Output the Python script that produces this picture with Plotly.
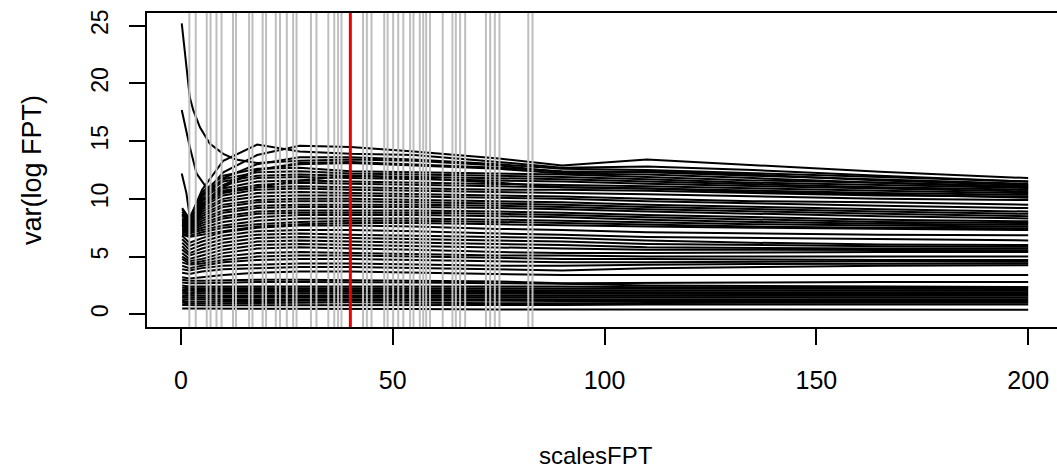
import plotly.graph_objects as go

# shared x positions (scalesFPT) for most curves
GX = [0.3, 2, 5, 10, 18, 28, 40, 55, 75, 90, 110, 135, 165, 200]

# low, nearly flat curves
BOTTOM = [
    [0.5, 0.5, 0.45, 0.45, 0.45, 0.45, 0.45, 0.45, 0.42, 0.42, 0.4, 0.4, 0.4, 0.4],
    [0.8, 0.78, 0.78, 0.78, 0.78, 0.78, 0.8, 0.8, 0.8, 0.8, 0.85, 0.85, 0.85, 0.85],
    [1.0, 0.95, 0.95, 0.95, 1.0, 1.0, 1.05, 1.0, 0.95, 0.95, 1.0, 1.0, 1.0, 1.0],
    [1.15, 1.1, 1.1, 1.15, 1.15, 1.2, 1.2, 1.2, 1.15, 1.15, 1.15, 1.15, 1.15, 1.15],
    [1.3, 1.3, 1.3, 1.3, 1.35, 1.35, 1.35, 1.35, 1.3, 1.3, 1.3, 1.3, 1.3, 1.3],
    [1.5, 1.45, 1.45, 1.5, 1.5, 1.5, 1.5, 1.5, 1.45, 1.45, 1.45, 1.45, 1.45, 1.45],
    [1.6, 1.6, 1.65, 1.65, 1.65, 1.65, 1.65, 1.65, 1.6, 1.6, 1.6, 1.6, 1.6, 1.6],
    [1.8, 1.75, 1.8, 1.8, 1.8, 1.8, 1.8, 1.8, 1.75, 1.75, 1.75, 1.75, 1.75, 1.75],
    [1.95, 1.9, 1.95, 1.95, 1.95, 1.95, 1.95, 1.95, 1.9, 1.9, 1.9, 1.9, 1.9, 1.9],
    [2.1, 2.1, 2.1, 2.1, 2.1, 2.1, 2.1, 2.1, 2.05, 2.05, 2.05, 2.05, 2.05, 2.05],
    [2.3, 2.25, 2.25, 2.25, 2.25, 2.25, 2.25, 2.25, 2.2, 2.2, 2.2, 2.2, 2.2, 2.2],
    [2.5, 2.4, 2.4, 2.4, 2.4, 2.45, 2.45, 2.45, 2.4, 2.4, 2.35, 2.35, 2.35, 2.35],
    [2.75, 2.7, 2.7, 2.75, 2.8, 2.8, 2.8, 2.75, 2.7, 2.65, 2.5, 2.45, 2.4, 2.35],
    [3.0, 2.9, 2.9, 2.95, 3.0, 3.0, 2.95, 2.9, 2.85, 2.7, 2.7, 2.75, 2.8, 2.8],
    [3.2, 3.1, 3.2, 3.4, 3.6, 3.7, 3.7, 3.6, 3.5, 3.4, 3.4, 3.4, 3.4, 3.4],
]

# middle curves
MIDDLE = [
    [3.6, 3.5, 3.7, 3.9, 4.0, 4.1, 4.1, 4.0, 3.9, 3.8, 4.0, 4.1, 4.2, 4.25],
    [3.9, 3.8, 4.0, 4.2, 4.3, 4.4, 4.4, 4.3, 4.2, 4.2, 4.3, 4.35, 4.4, 4.4],
    [4.2, 4.0, 4.2, 4.5, 4.7, 4.8, 4.8, 4.7, 4.6, 4.5, 4.5, 4.55, 4.6, 4.55],
    [4.5, 4.3, 4.4, 4.7, 5.0, 5.1, 5.1, 5.0, 4.9, 4.8, 4.8, 4.75, 4.7, 4.7],
    [4.8, 4.4, 4.6, 5.0, 5.3, 5.4, 5.3, 5.2, 5.1, 5.1, 5.0, 5.0, 5.0, 5.0],
    [5.0, 4.6, 4.8, 5.3, 5.7, 5.8, 5.7, 5.6, 5.4, 5.3, 5.3, 5.35, 5.4, 5.4],
    [5.3, 4.8, 5.1, 5.6, 6.0, 6.1, 6.0, 5.9, 5.8, 5.7, 5.6, 5.6, 5.55, 5.55],
    [5.6, 5.1, 5.4, 5.9, 6.3, 6.4, 6.3, 6.2, 6.1, 6.0, 5.8, 5.75, 5.7, 5.7],
    [5.9, 5.3, 5.7, 6.2, 6.6, 6.7, 6.6, 6.5, 6.4, 6.3, 6.1, 6.0, 5.9, 5.85],
    [6.2, 5.6, 6.0, 6.5, 6.9, 7.0, 6.9, 6.8, 6.7, 6.6, 6.4, 6.2, 6.05, 6.0],
    [6.5, 5.9, 6.3, 6.8, 7.2, 7.3, 7.3, 7.2, 7.0, 6.9, 6.7, 6.6, 6.5, 6.4],
    [6.8, 6.2, 6.6, 7.1, 7.5, 7.7, 7.7, 7.6, 7.4, 7.3, 7.1, 7.0, 6.9, 6.85],
]

# upper curves
UPPER = [
    [6.9, 6.7, 6.9, 7.2, 7.6, 7.8, 7.9, 7.9, 7.8, 7.7, 7.6, 7.5, 7.4, 7.3],
    [7.0, 6.8, 7.1, 7.5, 7.8, 8.0, 8.1, 8.1, 8.0, 7.9, 7.8, 7.6, 7.5, 7.45],
    [7.1, 7.0, 7.3, 7.7, 8.1, 8.3, 8.3, 8.3, 8.2, 8.1, 7.95, 7.8, 7.7, 7.6],
    [7.2, 7.1, 7.5, 8.0, 8.4, 8.6, 8.6, 8.6, 8.5, 8.4, 8.2, 8.0, 7.85, 7.75],
    [7.3, 7.2, 7.7, 8.3, 8.7, 8.8, 8.8, 8.8, 8.7, 8.6, 8.4, 8.2, 8.0, 7.9],
    [7.4, 7.3, 7.9, 8.5, 8.9, 9.0, 9.0, 9.0, 8.9, 8.8, 8.6, 8.4, 8.2, 8.05],
    [7.5, 7.4, 8.1, 8.8, 9.2, 9.3, 9.3, 9.3, 9.2, 9.1, 8.9, 8.7, 8.5, 8.3],
    [7.6, 7.5, 8.3, 9.0, 9.4, 9.5, 9.5, 9.5, 9.4, 9.3, 9.1, 8.9, 8.7, 8.5],
    [7.7, 7.6, 8.5, 9.3, 9.7, 9.8, 9.8, 9.7, 9.6, 9.5, 9.3, 9.1, 8.9, 8.7],
    [7.8, 7.7, 8.7, 9.5, 9.9, 10.0, 10.0, 9.9, 9.8, 9.7, 9.5, 9.3, 9.1, 8.9],
    [7.9, 7.7, 8.9, 9.8, 10.2, 10.3, 10.3, 10.2, 10.1, 10.0, 9.8, 9.6, 9.4, 9.2],
    [8.0, 7.8, 9.1, 10.0, 10.5, 10.6, 10.5, 10.4, 10.3, 10.2, 10.0, 9.8, 9.7, 9.5],
    [8.1, 7.8, 9.3, 10.3, 10.8, 10.9, 10.8, 10.7, 10.6, 10.5, 10.4, 10.2, 10.0, 9.9],
    [8.2, 7.9, 9.5, 10.5, 11.0, 11.1, 11.0, 10.9, 10.8, 10.8, 10.7, 10.5, 10.3, 10.2],
    [8.3, 7.9, 9.6, 10.7, 11.2, 11.4, 11.3, 11.2, 11.1, 11.0, 10.9, 10.7, 10.5, 10.35],
    [8.5, 8.0, 9.8, 10.9, 11.5, 11.6, 11.5, 11.4, 11.3, 11.2, 11.1, 10.9, 10.7, 10.5],
    [8.7, 8.0, 10.0, 11.2, 11.8, 11.9, 11.8, 11.7, 11.6, 11.5, 11.3, 11.1, 10.9, 10.65],
    [8.9, 8.1, 10.2, 11.5, 12.0, 12.1, 12.0, 11.9, 11.8, 11.7, 11.5, 11.3, 11.0, 10.8],
    [9.1, 8.2, 10.4, 11.7, 12.3, 12.4, 12.2, 12.1, 12.0, 11.9, 11.7, 11.4, 11.2, 10.95],
    [9.2, 8.3, 10.6, 12.0, 12.6, 12.7, 12.4, 12.3, 12.2, 12.1, 11.9, 11.6, 11.4, 11.1],
    [7.8, 7.8, 9.4, 11.2, 12.5, 13.1, 13.2, 13.0, 12.7, 12.4, 12.3, 12.0, 11.7, 11.3],
    [8.0, 7.9, 9.8, 11.8, 13.0, 13.6, 13.6, 13.4, 13.0, 12.6, 12.5, 12.2, 11.9, 11.5],
    [7.6, 8.2, 10.8, 13.3, 14.7, 14.1, 13.9, 13.8, 13.2, 12.7, 12.8, 12.5, 12.0, 11.5],
    [8.6, 8.0, 10.2, 12.3, 13.8, 14.6, 14.5, 14.1, 13.5, 12.9, 13.4, 12.9, 12.35, 11.8],
]

# curves starting high at small scales
HIGH_X1 = [0.2, 1.3, 2.1, 2.9, 4.5, 6.8, 10, 13, 18, 28, 40, 55, 75, 90, 110, 135, 165, 200]
HIGH_Y1 = [25.2, 21.4, 18.8, 17.7, 16.2, 14.8, 13.9, 13.4, 13.1, 13.3, 13.4, 13.3, 12.9, 12.3, 12.4, 12.1, 11.6, 11.2]
HIGH_X2 = [0.2, 1.3, 2.1, 3.7, 6, 10, 18, 28, 40, 55, 75, 90, 110, 135, 165, 200]
HIGH_Y2 = [17.7, 15.7, 14.5, 12.2, 11.0, 10.6, 11.0, 11.6, 12.0, 11.8, 11.4, 11.0, 10.9, 10.6, 10.4, 10.1]
HIGH_X3 = [0.2, 1.3, 2.1, 2.6, 5, 10, 18, 28, 40, 55, 75, 90, 110, 135, 165, 200]
HIGH_Y3 = [12.2, 10.5, 8.4, 7.9, 9.2, 11.0, 12.5, 13.0, 13.1, 12.9, 12.6, 12.2, 12.1, 11.8, 11.4, 11.0]

# vertical reference lines
GRAY_X = [2.0, 3.5, 6.1, 7.0, 8.4, 9.6, 12.3, 13.0, 16.1, 16.9, 19.3, 20.1, 22.4, 23.4,
          25.0, 26.5, 27.3, 30.7, 32.0, 34.8, 36.2, 37.1, 37.9, 43.0, 43.9, 45.0, 48.0,
          48.8, 50.1, 51.3, 52.5, 54.1, 54.9, 56.4, 57.2, 57.9, 58.8, 61.8, 64.1, 64.9,
          65.9, 67.1, 72.0, 73.0, 74.1, 75.2, 82.0, 83.0]
RED_X = 40

XTICKS = [0, 50, 100, 150, 200]
YTICKS = [0, 5, 10, 15, 20, 25]

FONT = "Liberation Sans, Arial, sans-serif"

fig = go.Figure()
curves = [(GX, y) for y in BOTTOM + MIDDLE + UPPER]
curves += [(HIGH_X1, HIGH_Y1), (HIGH_X2, HIGH_Y2), (HIGH_X3, HIGH_Y3)]
for xs, ys in curves:
    fig.add_trace(go.Scatter(x=xs, y=ys, mode="lines",
                             line=dict(color="black", width=2),
                             hoverinfo="skip", showlegend=False))

shapes = []
for gx in GRAY_X:
    shapes.append(dict(type="line", xref="x", yref="paper", x0=gx, x1=gx, y0=0, y1=1,
                       line=dict(color="#bebebe", width=2), layer="above"))
shapes.append(dict(type="line", xref="x", yref="paper", x0=RED_X, x1=RED_X, y0=0, y1=1,
                   line=dict(color="#ee0000", width=3), layer="above"))

fig.update_layout(
    width=1057, height=470,
    margin=dict(l=147, r=0, t=13, b=143, pad=0),
    paper_bgcolor="white", plot_bgcolor="white",
    font=dict(family=FONT, color="black"),
    shapes=shapes,
    xaxis=dict(range=[-8, 206.8], tickvals=XTICKS, ticktext=[str(v) for v in XTICKS],
               showgrid=False, zeroline=False, showline=True, mirror=True,
               linecolor="black", linewidth=2, ticks="outside", ticklen=16,
               tickwidth=2, tickcolor="black", tickfont=dict(size=25, family=FONT),
               ticklabelstandoff=14),
    yaxis=dict(range=[-1.1, 26.1], tickvals=YTICKS, ticktext=[str(v) for v in YTICKS],
               showgrid=False, zeroline=False, showline=True, mirror=False,
               linecolor="black", linewidth=2, ticks="outside", ticklen=16,
               tickwidth=2, tickcolor="black", tickfont=dict(size=23, family=FONT),
               tickangle=-90, ticklabelstandoff=12),
    annotations=[
        dict(text="scalesFPT", xref="paper", yref="paper", x=(596 - 147) / 910,
             y=-(455 - 327) / 314, xanchor="center", yanchor="middle",
             showarrow=False, font=dict(size=24, family=FONT)),
        dict(text="var(log FPT)", xref="paper", yref="paper", x=-(147 - 32) / 910,
             y=0.5, xanchor="center", yanchor="middle", textangle=-90,
             showarrow=False, font=dict(size=27, family=FONT)),
    ],
)

fig.write_html("out.html")
